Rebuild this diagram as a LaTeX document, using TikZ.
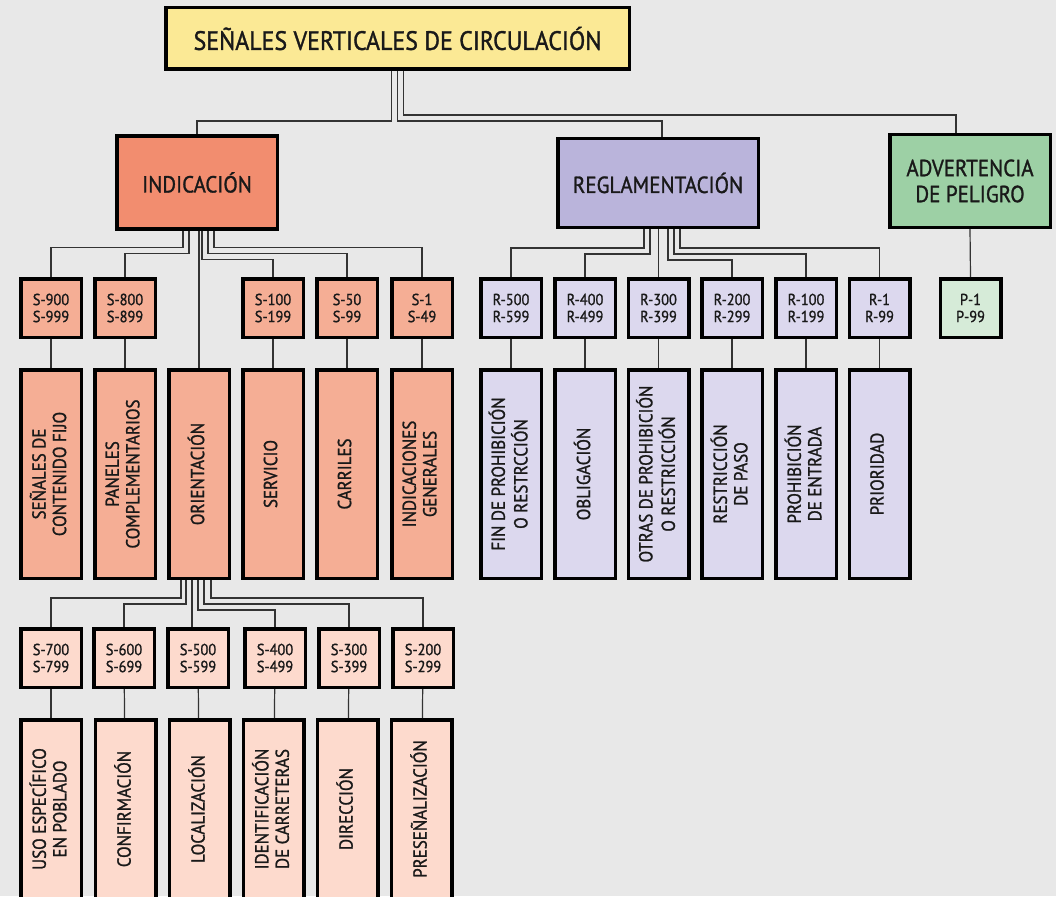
\documentclass[tikz,border=0pt]{standalone}
\usepackage{fontspec}
\setmainfont{PT Sans}[FakeStretch=0.9, FakeBold=1.2]
\usepackage{xcolor}
\usetikzlibrary{calc}
\definecolor{fondo}{HTML}{E8E8E8}
\definecolor{amarillo}{HTML}{FBE995}
\definecolor{salmon}{HTML}{F28D6F}
\definecolor{salmonclaro}{HTML}{F5AE95}
\definecolor{rosado}{HTML}{FDDACD}
\definecolor{lila}{HTML}{BAB4DB}
\definecolor{lilaclaro}{HTML}{DCD8EE}
\definecolor{verde}{HTML}{9DD0A5}
\definecolor{verdeclaro}{HTML}{D6EBD8}
\newcommand{\giro}[1]{\rotatebox{90}{\begin{tabular}{@{}c@{}}#1\end{tabular}}}

\begin{document}
\begin{tikzpicture}[x=1pt, y=-1pt,
    caja/.style={draw=black, line width=3.5pt, align=center, text=black!90, inner sep=0pt},
    grupo/.style={caja, minimum width=160.5pt, minimum height=93pt, font=\fontsize{23.3}{26}\selectfont},
    codigo/.style={caja, minimum width=60.5pt, minimum height=58.5pt, font=\fontsize{16}{17}\selectfont},
    alta/.style={caja, minimum width=60.5pt, minimum height=208.5pt, font=\fontsize{18.8}{20.5}\selectfont},
    baja/.style={alta, minimum height=178.5pt},
    enlace/.style={draw=black!80, line width=1.2pt}]
  \fill[fondo] (0,0) rectangle (1056,896);
  \useasboundingbox (0,0) rectangle (1056,896);
  \clip (0,0) rectangle (1056,896);

  \node[caja, fill=amarillo, minimum width=463.5pt, minimum height=61.5pt, font=\fontsize{26.6}{30}\selectfont] (titulo) at (397.5,38.5) {SEÑALES VERTICALES DE CIRCULACIÓN};
  \node[grupo, fill=salmon] (ind) at (197,182.5) {INDICACIÓN};
  \node[grupo, fill=lila, minimum width=200.5pt, minimum height=88.5pt] (regl) at (658,183) {REGLAMENTACIÓN};
  \node[grupo, fill=verde, minimum height=92.5pt] (adv) at (970,181) {ADVERTENCIA\\DE PELIGRO};

  \node[codigo, fill=salmonclaro] (s900) at (51,308) {S-900\\S-999};
  \node[codigo, fill=salmonclaro] (s800) at (125,308) {S-800\\S-899};
  \node[codigo, fill=salmonclaro] (s100) at (273,308) {S-100\\S-199};
  \node[codigo, fill=salmonclaro] (s50) at (347,308) {S-50\\S-99};
  \node[codigo, fill=salmonclaro] (s1) at (422,308) {S-1\\S-49};

  \node[alta, fill=salmonclaro] (fijo) at (51,474) {\giro{SEÑALES DE\\CONTENIDO FIJO}};
  \node[alta, fill=salmonclaro] (paneles) at (125,474) {\giro{PANELES\\COMPLEMENTARIOS}};
  \node[alta, fill=salmonclaro] (orient) at (199,474) {\giro{ORIENTACIÓN}};
  \node[alta, fill=salmonclaro] (servicio) at (273,474) {\giro{SERVICIO}};
  \node[alta, fill=salmonclaro] (carriles) at (347,474) {\giro{CARRILES}};
  \node[alta, fill=salmonclaro] (generales) at (422,474) {\giro{INDICACIONES\\GENERALES}};

  \node[codigo, fill=lilaclaro] (r500) at (511,308) {R-500\\R-599};
  \node[codigo, fill=lilaclaro] (r400) at (585,308) {R-400\\R-499};
  \node[codigo, fill=lilaclaro] (r300) at (658.5,308) {R-300\\R-399};
  \node[codigo, fill=lilaclaro] (r200) at (732,308) {R-200\\R-299};
  \node[codigo, fill=lilaclaro] (r100) at (806,308) {R-100\\R-199};
  \node[codigo, fill=lilaclaro] (r1) at (879.5,308) {R-1\\R-99};
  \node[codigo, fill=verdeclaro] (p1) at (970.5,308) {P-1\\P-99};

  \node[alta, fill=lilaclaro] (fin) at (511,474) {\giro{FIN DE PROHIBICIÓN\\O RESTRCCIÓN}};
  \node[alta, fill=lilaclaro] (obligacion) at (585,474) {\giro{OBLIGACIÓN}};
  \node[alta, fill=lilaclaro] (otras) at (658.5,474) {\giro{OTRAS DE PROHIBICIÓN\\O RESTRICCIÓN}};
  \node[alta, fill=lilaclaro] (paso) at (732,474) {\giro{RESTRICCIÓN\\DE PASO}};
  \node[alta, fill=lilaclaro] (entrada) at (806,474) {\giro{PROHIBICIÓN\\DE ENTRADA}};
  \node[alta, fill=lilaclaro] (prioridad) at (879.5,474) {\giro{PRIORIDAD}};

  \node[codigo, fill=rosado] (s700) at (51,658) {S-700\\S-799};
  \node[codigo, fill=rosado] (s600) at (124,658) {S-600\\S-699};
  \node[codigo, fill=rosado] (s500) at (198,658) {S-500\\S-599};
  \node[codigo, fill=rosado] (s400) at (275,658) {S-400\\S-499};
  \node[codigo, fill=rosado] (s300) at (349,658) {S-300\\S-399};
  \node[codigo, fill=rosado] (s200) at (423,658) {S-200\\S-299};

  \node[baja, fill=rosado] (poblado) at (51,809) {\giro{USO ESPECÍFICO\\EN POBLADO}};
  \node[baja, fill=rosado] (confirmacion) at (125.5,809) {\giro{CONFIRMACIÓN}};
  \node[baja, fill=rosado] (localizacion) at (199.5,809) {\giro{LOCALIZACIÓN}};
  \node[baja, fill=rosado] (carreteras) at (273.5,809) {\giro{IDENTIFICACIÓN\\DE CARRETERAS}};
  \node[baja, fill=rosado] (direccion) at (347.5,809) {\giro{DIRECCIÓN}};
  \node[baja, fill=rosado] (presenal) at (421.5,809) {\giro{PRESEÑALIZACIÓN}};

  \draw[enlace] ($(titulo.south)+(-6,0)$) -- ++(0,50) -| (ind.north);
  \draw[enlace] ($(titulo.south)+(0,0)$) -- ++(0,50) -| ($(regl.north)+(4,0)$);
  \draw[enlace] ($(titulo.south)+(6,0)$) -- ++(0,44) -| ($(adv.north)+(-14,0)$);

  \draw[enlace] ($(ind.south)+(-14,0)$) -- ++(0,17) -| (s900.north);
  \draw[enlace] ($(ind.south)+(-8,0)$) -- ++(0,23) -| (s800.north);
  \draw[enlace] (orient.north |- ind.south) -- (orient.north);
  \draw[enlace] ($(ind.south)+(5,0)$) -- ++(0,29) -| (s100.north);
  \draw[enlace] ($(ind.south)+(11,0)$) -- ++(0,23) -| (s50.north);
  \draw[enlace] ($(ind.south)+(17,0)$) -- ++(0,17) -| (s1.north);

  \draw[enlace] ($(regl.south)+(-14,0)$) -- ++(0,19) -| (r500.north);
  \draw[enlace] ($(regl.south)+(-8,0)$) -- ++(0,25) -| (r400.north);
  \draw[enlace] (r300.north |- regl.south) -- (r300.north);
  \draw[enlace] ($(regl.south)+(10,0)$) -- ++(0,31) -| (r200.north);
  \draw[enlace] ($(regl.south)+(16,0)$) -- ++(0,25) -| (r100.north);
  \draw[enlace] ($(regl.south)+(22,0)$) -- ++(0,19) -| (r1.north);
  \draw[enlace] (adv.south) -- (p1.north);

  \draw[enlace] ($(orient.south)+(-18,0)$) -- ++(0,18) -| (s700.north);
  \draw[enlace] ($(orient.south)+(-13,0)$) -- ++(0,24) -| (s600.north);
  \draw[enlace] ($(orient.south)+(-7,0)$) -- ($(s500.north)+(-6,0)$);
  \draw[enlace] ($(orient.south)+(-1,0)$) -- ++(0,30) -| (s400.north);
  \draw[enlace] ($(orient.south)+(5,0)$) -- ++(0,24) -| (s300.north);
  \draw[enlace] ($(orient.south)+(12,0)$) -- ++(0,18) -| (s200.north);

  \draw[enlace] (s900) -- (fijo);
  \draw[enlace] (s800) -- (paneles);
  \draw[enlace] (s100) -- (servicio);
  \draw[enlace] (s50) -- (carriles);
  \draw[enlace] (s1) -- (generales);
  \draw[enlace] (r500) -- (fin);
  \draw[enlace] (r400) -- (obligacion);
  \draw[enlace] (r300) -- (otras);
  \draw[enlace] (r200) -- (paso);
  \draw[enlace] (r100) -- (entrada);
  \draw[enlace] (r1) -- (prioridad);
  \draw[enlace] (s700) -- (poblado);
  \draw[enlace] (s600) -- (confirmacion);
  \draw[enlace] (s500) -- (localizacion);
  \draw[enlace] (s400) -- (carreteras);
  \draw[enlace] (s300) -- (direccion);
  \draw[enlace] (s200) -- (presenal);
\end{tikzpicture}
\end{document}
